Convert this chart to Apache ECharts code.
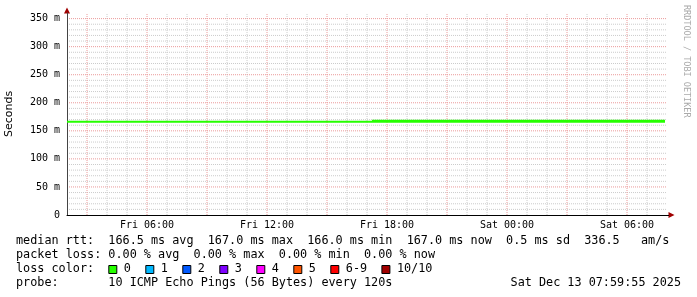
<!DOCTYPE html>
<html>
<head>
<meta charset="utf-8">
<script src="https://cdn.jsdelivr.net/npm/echarts@6/dist/echarts.min.js"></script>
<style>
html,body{margin:0;padding:0;background:#fff;}
#c{width:697px;height:297px;}
</style>
</head>
<body>
<div id="c"></div>
<script>
// ---- data (hours since Fri 00:00, median rtt in ms) ----
const timesA = [2, 3, 4, 5, 6, 7, 8, 9, 10, 11, 12, 13, 14, 15, 16, 17, 17.25];
const rttA   = [166.3, 166.3, 166.3, 166.3, 166.3, 166.3, 166.3, 166.3, 166.3, 166.3, 166.3, 166.3, 166.3, 166.3, 166.3, 166.3, 166.3];
const timesB = [17.25, 18, 19, 20, 21, 22, 23, 24, 25, 26, 27, 28, 29, 30, 31, 31.9];
const rttB   = [167.0, 167.0, 167.0, 167.0, 167.0, 167.0, 167.0, 167.0, 167.0, 167.0, 167.0, 167.0, 167.0, 167.0, 167.0, 167.0];
const xTickHours  = [6, 12, 18, 24, 30];
const xTickLabels = ["Fri 06:00", "Fri 12:00", "Fri 18:00", "Sat 00:00", "Sat 06:00"];
const xMajorGrid  = [3, 6, 9, 12, 15, 18, 21, 24, 27, 30];
const xMinorGrid  = [4, 5, 7, 8, 10, 11, 13, 14, 16, 17, 19, 20, 22, 23, 25, 26, 28, 29, 31];
const yTickValues = [0, 50, 100, 150, 200, 250, 300, 350];
const yTickLabels = ["0", "50 m", "100 m", "150 m", "200 m", "250 m", "300 m", "350 m"];
const yMajorGrid  = [50, 100, 150, 200, 250, 300, 350];
const yMinorGrid  = [10, 20, 30, 40, 60, 70, 80, 90, 110, 120, 130, 140, 160, 170, 180, 190,
                     210, 220, 230, 240, 260, 270, 280, 290, 310, 320, 330, 340];
const legendLines = [
  "median rtt:  166.5 ms avg  167.0 ms max  166.0 ms min  167.0 ms now  0.5 ms sd  336.5   am/s",
  "packet loss: 0.00 % avg  0.00 % max  0.00 % min  0.00 % now",
  "loss color:",
  "probe:       10 ICMP Echo Pings (56 Bytes) every 120s"
];
const lossLabels = ["0", "1", "2", "3", "4", "5", "6-9", "10/10"];
const lossColors = ["#26ff00", "#00b8ff", "#0059ff", "#7e00ff", "#ff00ff", "#ff5500", "#ff0000", "#a10000"];
const stamp = "Sat Dec 13 07:59:55 2025";

const mono = "'DejaVu Sans Mono', monospace";
const legFont = "11.8px " + mono;
const MAJ = "#eb9a9a";
const MIN = "#cccccc";

const chart = echarts.init(document.getElementById('c'), null, {renderer: 'canvas'});

const graphics = [];
const rowY = [241, 255, 269, 283];
legendLines.forEach((t, i) => {
  graphics.push({type: 'text', x: 16, y: rowY[i], silent: true,
    style: {text: t, font: legFont, fill: '#000', verticalAlign: 'middle', align: 'left'}});
});
let bx = 108.3;
lossLabels.forEach((lab, i) => {
  graphics.push({type: 'rect', shape: {x: bx + 0.5, y: 265.5, width: 8, height: 8}, silent: true,
    style: {fill: lossColors[i], stroke: '#000', lineWidth: 1}});
  graphics.push({type: 'text', x: bx + 15.5, y: 269, silent: true,
    style: {text: lab, font: legFont, fill: '#000', verticalAlign: 'middle', align: 'left'}});
  bx += 37 + (lab.length - 1) * 7.05;
});
graphics.push({type: 'text', x: 681, y: 283, silent: true,
  style: {text: stamp, font: legFont, fill: '#000', verticalAlign: 'middle', align: 'right'}});
graphics.push({type: 'text', x: 686, y: 5, rotation: -Math.PI / 2, silent: true,
  style: {text: "RRDTOOL / TOBI OETIKER", font: "8.5px " + mono, fill: '#aaaaaa', verticalAlign: 'middle', align: 'left'}});
// axis arrows
graphics.push({type: 'polygon', shape: {points: [[64, 13.5], [70, 13.5], [67, 7.5]]}, silent: true, style: {fill: '#a00000'}});
graphics.push({type: 'polygon', shape: {points: [[668.5, 212], [668.5, 218], [674.5, 215]]}, silent: true, style: {fill: '#a00000'}});
graphics.push({type: 'line', shape: {x1: 667, y1: 215.5, x2: 669, y2: 215.5}, silent: true, style: {stroke: '#000', lineWidth: 1}});

// grid lines built from the tick-value arrays as broken line paths
const vLines = arr => { const d = []; arr.forEach(v => { d.push([v, 0], [v, 360], [v, '-']); }); return d; };
const hLines = arr => { const d = []; arr.forEach(v => { d.push([2, v], [32, v], ['-', v]); }); return d; };
const gridSeries = (data, color, z) => ({
  type: 'line', data: data, silent: true, z: z, showSymbol: false, connectNulls: false,
  clip: true, animation: false, emphasis: {disabled: true},
  lineStyle: {color: color, width: 1, type: [1, 1]}
});

chart.setOption({
  animation: false,
  backgroundColor: '#fff',
  grid: {left: 67, right: 30, top: 13, bottom: 82, containLabel: false, outerBoundsMode: 'none'},
  xAxis: {
    type: 'value', min: 2, max: 32, interval: 1, z: 5,
    axisLine: {show: true, onZero: false, lineStyle: {color: '#000', width: 1}},
    axisTick: {show: false},
    axisLabel: {
      margin: 5, color: '#000', fontFamily: mono, fontSize: 10,
      showMaxLabel: false, showMinLabel: false,
      formatter: v => { const k = xTickHours.indexOf(v); return k >= 0 ? xTickLabels[k] : ''; }
    },
    splitLine: {show: false}
  },
  yAxis: {
    type: 'value', min: 0, max: 360, interval: 10, z: 5,
    name: 'Seconds', nameLocation: 'middle', nameGap: 52, nameRotate: 90,
    nameTextStyle: {fontFamily: "'DejaVu Sans', sans-serif", fontSize: 11, color: '#000'},
    axisLine: {show: true, onZero: false, lineStyle: {color: '#444', width: 1}},
    axisTick: {show: false},
    axisLabel: {
      margin: 7, color: '#000', fontFamily: mono, fontSize: 10, showMaxLabel: false,
      formatter: v => { const k = yTickValues.indexOf(v); return k >= 0 ? yTickLabels[k] : ''; }
    },
    splitLine: {show: false}
  },
  series: [
    gridSeries(vLines(xMinorGrid), MIN, 1),
    gridSeries(hLines(yMinorGrid), MIN, 1),
    gridSeries(vLines(xMajorGrid), MAJ, 2),
    gridSeries(hLines(yMajorGrid), MAJ, 2),
    {type: 'line', data: timesA.map((t, i) => [t, rttA[i]]), showSymbol: false, silent: true,
     lineStyle: {color: '#26ff00', width: 2}, z: 6},
    {type: 'line', data: timesB.map((t, i) => [t, rttB[i]]), showSymbol: false, silent: true,
     lineStyle: {color: '#26ff00', width: 3}, z: 6}
  ],
  graphic: graphics
});
</script>
</body>
</html>
